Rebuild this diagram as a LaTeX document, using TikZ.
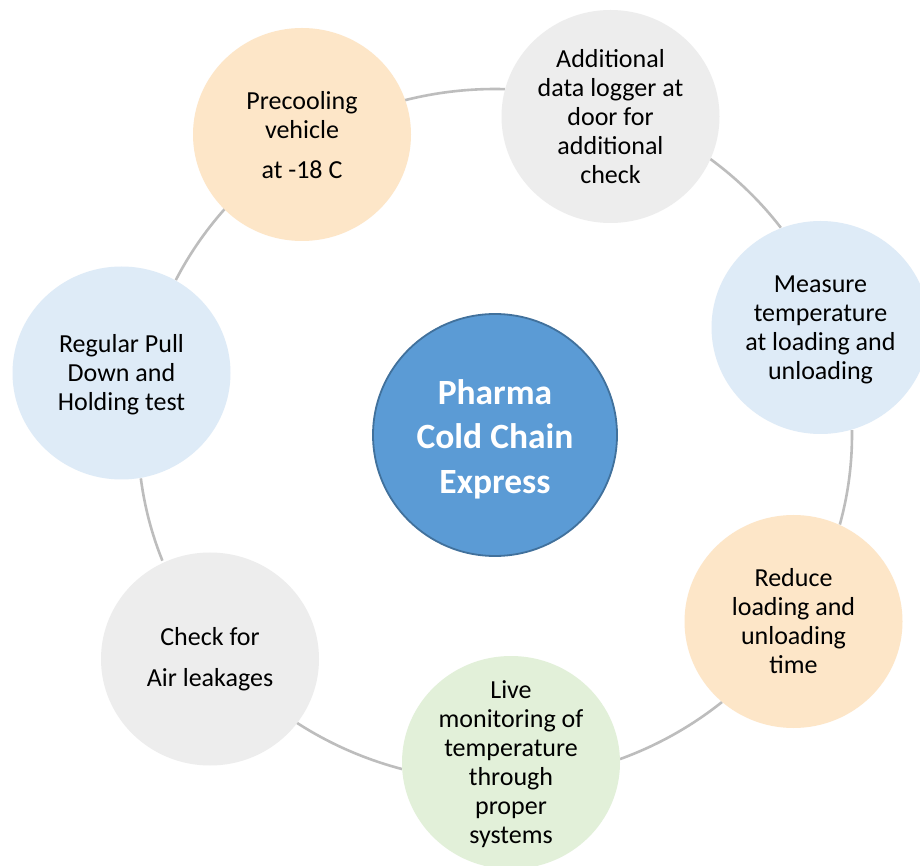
\documentclass[tikz,border=0pt]{standalone}
\usepackage{fontspec}
\setmainfont{Carlito}
\usetikzlibrary{shapes.geometric}
\definecolor{peach}{HTML}{FDE6C8}
\definecolor{lblue}{HTML}{DEEBF7}
\definecolor{lgray}{HTML}{EDEDED}
\definecolor{lgreen}{HTML}{E2F0D9}
\definecolor{hubfill}{HTML}{5B9BD5}
\definecolor{hubline}{HTML}{41719C}
\definecolor{ringgray}{HTML}{BDBDBD}
\begin{document}
\begin{tikzpicture}[x=1pt,y=1pt,
  bubble/.style={ellipse, minimum width=218pt, minimum height=213pt, inner sep=0pt, draw=none},
  btext/.style={align=center, font=\fontsize{26}{29}\selectfont, text=black, inner sep=0pt},
  ringline/.style={draw=ringgray, line width=2.6pt},
  hub/.style={ellipse, minimum width=244pt, minimum height=242pt, fill=hubfill, draw=hubline, line width=1.8pt, inner sep=0pt},
  hubtext/.style={align=center, font=\fontsize{35.5}{44.5}\selectfont\bfseries, text=white, inner sep=0pt}]
\useasboundingbox (0,0) rectangle (920,865);
\fill[white] (0,0) rectangle (920,865);
\coordinate (ringc) at (495,430);
% ring segments (connectors between the bubbles)
\draw[ringline] (ringc) ++(104.8:357pt and 346pt) arc[start angle=104.8, end angle=88.4, x radius=357pt, y radius=346pt];
\draw[ringline] (ringc) ++(53.0:357pt and 346pt) arc[start angle=53.0, end angle=36.8, x radius=357pt, y radius=346pt];
\draw[ringline] (ringc) ++(0.8:357pt and 346pt) arc[start angle=0.8, end angle=-15.0, x radius=357pt, y radius=346pt];
\draw[ringline] (ringc) ++(-50.5:357pt and 346pt) arc[start angle=-50.5, end angle=-69.5, x radius=357pt, y radius=346pt];
\draw[ringline] (ringc) ++(-105.1:357pt and 346pt) arc[start angle=-105.1, end angle=-123.8, x radius=357pt, y radius=346pt];
\draw[ringline] (ringc) ++(201.3:357pt and 346pt) arc[start angle=201.3, end angle=187.2, x radius=357pt, y radius=346pt];
\draw[ringline] (ringc) ++(153.4:357pt and 346pt) arc[start angle=153.4, end angle=139.2, x radius=357pt, y radius=346pt];
% bubbles
\node[bubble, fill=peach] (pre) at (302,730.5) {};
\node[btext] (pre-t) at (302,730) {Precooling\\vehicle\\[11pt]at -18 C};
\node[bubble, fill=lgray] (dat) at (610.5,748.5) {};
\node[btext] (dat-t) at (dat) {Additional\\data logger at\\door for\\additional\\check};
\node[bubble, fill=lblue] (mea) at (820.5,537.5) {};
\node[btext] (mea-t) at (820.5,535) {Measure\\temperature\\at loading and\\unloading};
\node[bubble, fill=peach] (red) at (793.5,243.5) {};
\node[btext] (red-t) at (red) {Reduce\\loading and\\unloading\\time};
\node[bubble, fill=lgreen] (liv) at (511,102.5) {};
\node[btext] (liv-t) at (511,100.5) {Live\\monitoring of\\temperature\\through\\proper\\systems};
\node[bubble, fill=lgray] (chk) at (210,206) {};
\node[btext] (chk-t) at (chk) {Check for\\[12pt]Air leakages};
\node[bubble, fill=lblue] (reg) at (121.5,492) {};
\node[btext] (reg-t) at (121.5,490.5) {Regular Pull\\Down and\\Holding test};
% hub
\node[hub] (hub) at (495,430) {};
\node[hubtext] (hub-t) at (495,426) {Pharma\\Cold Chain\\Express};
\end{tikzpicture}
\end{document}
